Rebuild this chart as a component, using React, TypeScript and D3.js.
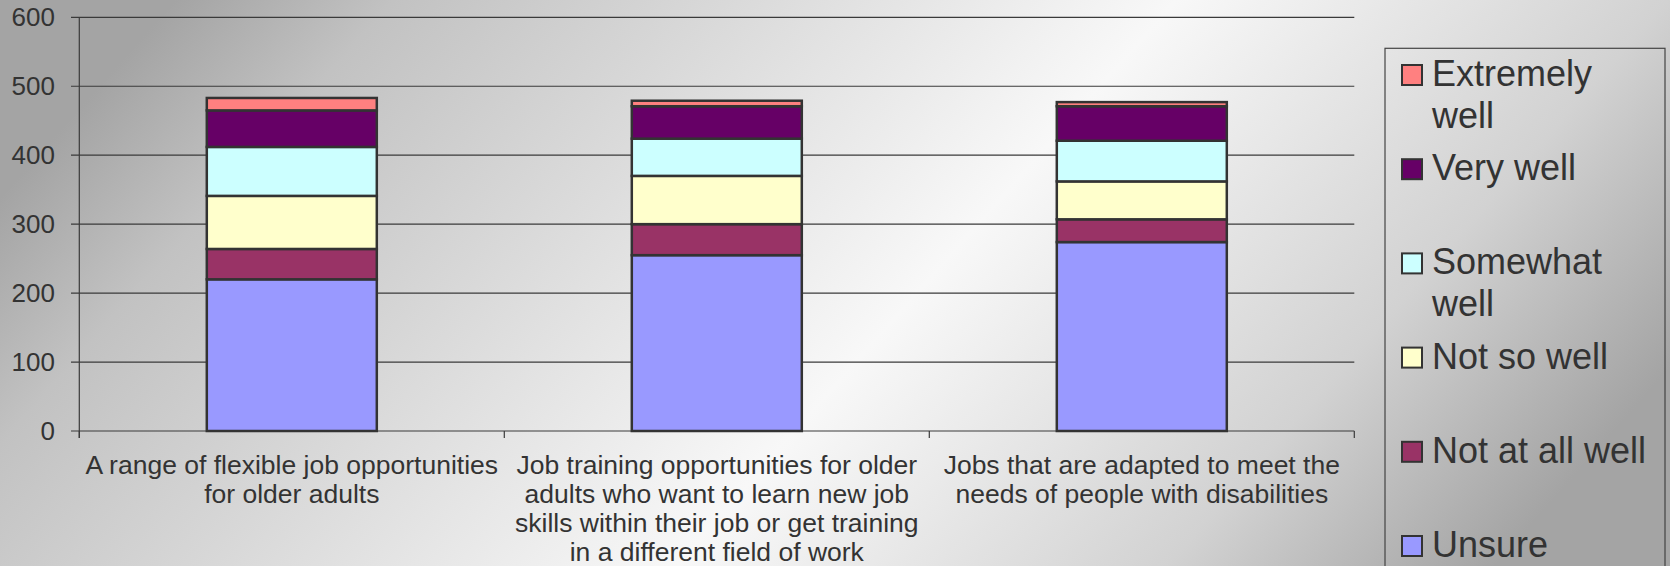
import React from "react";
import * as d3 from "d3";

const categories = [
  "A range of flexible job opportunities for older adults",
  "Job training opportunities for older adults who want to learn new job skills within their job or get training in a different field of work",
  "Jobs that are adapted to meet the needs of people with disabilities",
];
const categoryLabelLines = [
  ["A range of flexible job opportunities", "for older adults"],
  ["Job training opportunities for older", "adults who want to learn new job", "skills within their job or get training", "in a different field of work"],
  ["Jobs that are adapted to meet the", "needs of people with disabilities"],
];

const seriesNames = ["Unsure", "Not at all well", "Not so well", "Somewhat well", "Very well", "Extremely well"];
const seriesColors = ["#9999FF", "#993366", "#FFFFCC", "#CCFFFF", "#660066", "#FF8080"];

const unsure = [220, 255, 274];
const notAtAllWell = [44, 45, 33];
const notSoWell = [77, 70, 55];
const somewhatWell = [71, 54, 59];
const veryWell = [53, 47, 50];
const extremelyWell = [18, 8, 6];

const yTicks = [0, 100, 200, 300, 400, 500, 600];

const legendLabelLines = [
  ["Extremely", "well"],
  ["Very well"],
  ["Somewhat", "well"],
  ["Not so well"],
  ["Not at all well"],
  ["Unsure"],
];

const W = 1670;
const H = 566;
const font = "Arial, 'Liberation Sans', sans-serif";
const textColor = "#333333";

export default function App() {
  const seriesValues = [unsure, notAtAllWell, notSoWell, somewhatWell, veryWell, extremelyWell];
  const table = categories.map((c, i) => {
    const row: any = { category: c };
    seriesNames.forEach((s, j) => (row[s] = seriesValues[j][i]));
    return row;
  });
  const stacked = d3.stack<any>().keys(seriesNames)(table);

  const plotLeft = 79.3;
  const plotRight = 1354.3;
  const x = d3.scaleBand<string>().domain(categories).range([plotLeft, plotRight]).paddingInner(0.6).paddingOuter(0.3);
  const y = d3.scaleLinear().domain([0, 600]).range([431, 17.3]);
  const step = x.step();
  const boundaries = d3.range(categories.length + 1).map((i) => plotLeft + i * step);

  const legendOrder = d3.range(seriesNames.length).reverse();

  return (
    <div style={{ position: "absolute", left: 0, top: 0, width: W, height: H }}>
      <svg width={W} height={H} style={{ display: "block" }}>
        <defs>
          <linearGradient id="bg" x1="0" y1="0.35" x2="1" y2="0.65">
            <stop offset="0" stopColor="#a4a4a4" />
            <stop offset="0.12" stopColor="#c2c2c2" />
            <stop offset="0.55" stopColor="#f8f8f8" />
            <stop offset="0.82" stopColor="#d2d2d2" />
            <stop offset="1" stopColor="#a4a4a4" />
          </linearGradient>
        </defs>
        <rect x={0} y={0} width={W} height={H} fill="url(#bg)" />

        {/* gridlines */}
        {yTicks.map((t) => (
          <line key={"g" + t} x1={71} x2={plotRight} y1={y(t)} y2={y(t)} stroke="#3a3a3a" strokeWidth={1.2} />
        ))}
        {/* y axis */}
        <line x1={plotLeft} x2={plotLeft} y1={y(600)} y2={y(0) + 7} stroke="#3a3a3a" strokeWidth={1.2} />
        {/* x ticks */}
        {boundaries.map((b, i) => (
          <line key={"xt" + i} x1={b} x2={b} y1={y(0)} y2={y(0) + 7} stroke="#3a3a3a" strokeWidth={1.2} />
        ))}
        {/* y tick labels */}
        {yTicks.map((t) => (
          <text key={"yl" + t} x={55} y={y(t)} dy="0.35em" textAnchor="end" fontFamily={font} fontSize={26} fill={textColor}>
            {t}
          </text>
        ))}

        {/* bars */}
        {stacked.map((s, si) =>
          s.map((d, ci) => (
            <rect
              key={si + "-" + ci}
              x={x(categories[ci])!}
              width={x.bandwidth()}
              y={y(d[1])}
              height={y(d[0]) - y(d[1])}
              fill={seriesColors[si]}
              stroke="#333333"
              strokeWidth={2.5}
            />
          ))
        )}

        {/* category labels */}
        {categories.map((c, i) => (
          <text key={"xl" + i} textAnchor="middle" fontFamily={font} fontSize={26.5} fill={textColor}>
            {categoryLabelLines[i].map((line, li) => (
              <tspan key={li} x={x(c)! + x.bandwidth() / 2} y={473.5 + li * 29.2}>
                {line}
              </tspan>
            ))}
          </text>
        ))}

        {/* legend */}
        <rect x={1385} y={48.3} width={280} height={H} fill="none" stroke="#444444" strokeWidth={1.2} />
        {legendOrder.map((si, k) => {
          const top = 65 + k * 94.2;
          return (
            <g key={"lg" + si}>
              <rect x={1402} y={top} width={20} height={20} fill={seriesColors[si]} stroke="#333333" strokeWidth={2} />
              <text fontFamily={font} fontSize={36} fill={textColor}>
                {legendLabelLines[k].map((line, li) => (
                  <tspan key={li} x={1432} y={top + 21 + li * 42}>
                    {line}
                  </tspan>
                ))}
              </text>
            </g>
          );
        })}
      </svg>
    </div>
  );
}
